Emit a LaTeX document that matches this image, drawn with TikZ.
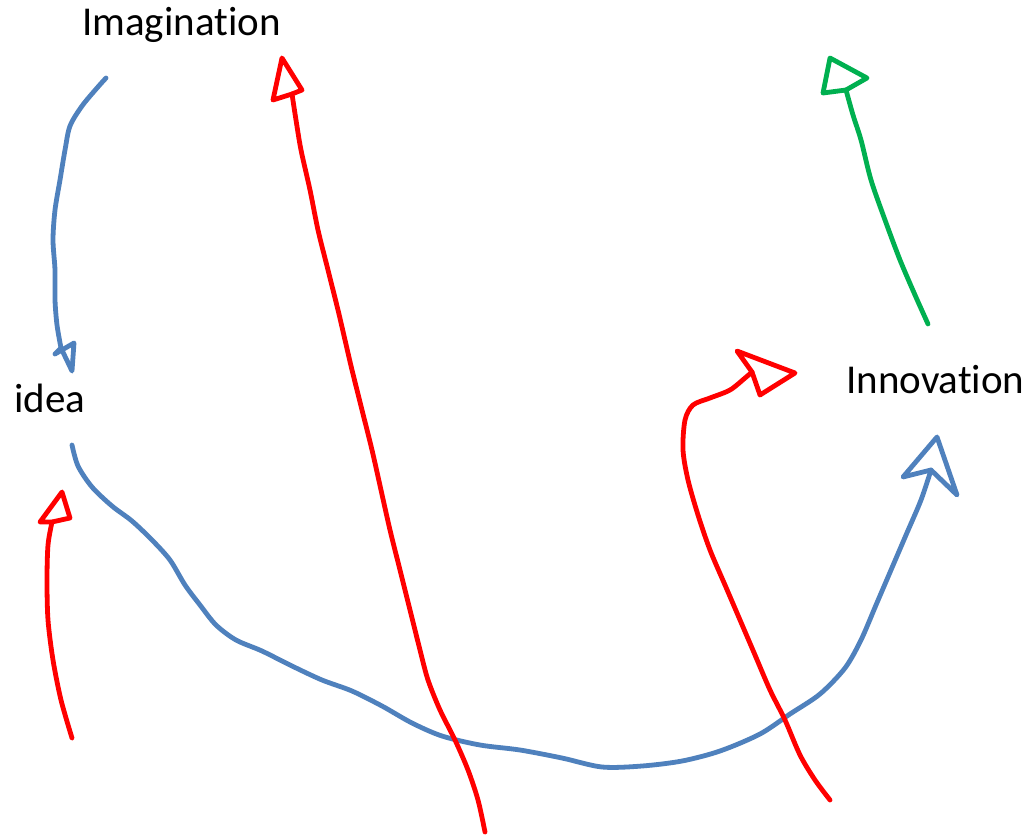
\documentclass[tikz,border=0pt]{standalone}
\usepackage{fontspec}
\setmainfont{Carlito}[Ligatures={NoCommon}]
\definecolor{pblue}{RGB}{79,129,189}
\definecolor{pred}{RGB}{255,0,0}
\definecolor{pgreen}{RGB}{0,176,80}
\tikzset{
  stroke/.style={line width=4.8pt, line cap=round, line join=round},
  lbl/.style={anchor=base west, inner sep=0pt, font=\fontsize{41}{48}\selectfont},
}
\begin{document}
\begin{tikzpicture}[x=1pt,y=-1pt]
\useasboundingbox (0,0) rectangle (1030,839);
\fill[white] (0,0) rectangle (1030,839);
% labels
\node[lbl] (imag) at (82,35) {Imagination};
\node[lbl] (idea) at (14,412) {idea};
\node[lbl] (innov) at (846,393) {Innovation};
% blue: Imagination -> idea
\draw[stroke,pblue] plot[smooth,tension=0.5] coordinates {(106,78) (97,88) (82,106) (70,126) (65,150) (60,180) (55,210) (53,240) (55,270) (55,300) (57,325) (61,348)};
\draw[stroke,pblue] (61,348) -- (55,354) -- (74,343) -- (72,371) -- cycle;
% blue: idea -> Innovation
\draw[stroke,pblue] plot[smooth,tension=0.5] coordinates {(72,445) (78,466) (92,487) (112,506) (132,521) (152,540) (170,560) (185,585) (200,605) (216,625) (236,640) (262,651) (292,666) (322,680) (352,691) (382,706) (412,723) (442,736) (480,745) (520,750) (562,758) (602,767) (642,766) (682,761) (720,751) (760,734) (790,714) (820,694) (845,668) (861,640) (876,605) (891,570) (906,535) (921,500) (931,470)};
\draw[stroke,pblue] (931,470) -- (903,477) -- (937,437) -- (957,495) -- cycle;
% red bottom-left
\draw[stroke,pred] plot[smooth,tension=0.5] coordinates {(72,738) (61,700) (53,660) (48,620) (47,580) (48,545) (52,522)};
\draw[stroke,pred] (52,522) -- (40,522) -- (62,492) -- (70,518) -- cycle;
% red long
\draw[stroke,pred] plot[smooth,tension=0.5] coordinates {(485,832) (478,800) (468,770) (455,740) (440,710) (428,680) (420,650) (410,610) (400,570) (390,530) (381,490) (372,450) (362,410) (352,370) (345,340) (338,310) (328,270) (318,230) (310,190) (301,150) (296,120) (292,94)};
\draw[stroke,pred] (292,94) -- (273,100) -- (282,58) -- (302,90) -- cycle;
% red right
\draw[stroke,pred] plot[smooth,tension=0.5] coordinates {(830,800) (815,780) (800,755) (785,720) (770,690) (755,655) (740,620) (725,585) (710,550) (698,515) (688,480) (683,450) (685,420) (693,405) (710,398) (730,390) (745,378) (752,372)};
\draw[stroke,pred] (752,372) -- (737,351) -- (795,373) -- (760,395) -- cycle;
% green
\draw[stroke,pgreen] plot[smooth,tension=0.5] coordinates {(928,324) (915,295) (900,260) (885,220) (871,180) (861,140) (853,115) (846,90)};
\draw[stroke,pgreen] (846,90) -- (823,93) -- (830,58) -- (867,78) -- cycle;
\end{tikzpicture}
\end{document}
